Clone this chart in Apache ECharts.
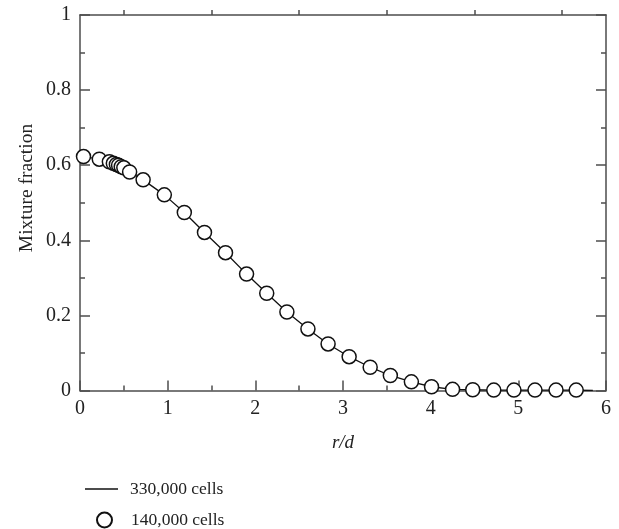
<!DOCTYPE html>
<html>
<head>
<meta charset="utf-8">
<script src="https://cdn.jsdelivr.net/npm/echarts@6/dist/echarts.min.js"></script>
<style>
  html, body { margin: 0; padding: 0; background: #fff; }
  #chart { width: 619px; height: 529px; }
</style>
</head>
<body>
<div id="chart"></div>
<script>
// 330,000 cells (line)
var lineX = [0.04, 0.22, 0.335, 0.38, 0.415, 0.44, 0.47, 0.50, 0.566, 0.72, 0.962, 1.19, 1.42, 1.66, 1.90, 2.13, 2.36, 2.60, 2.83, 3.07, 3.31, 3.54, 3.78, 4.01, 4.25, 4.48, 4.72, 4.95, 5.19, 5.43, 5.66, 5.85];
var lineY = [0.623, 0.616, 0.609, 0.605, 0.602, 0.600, 0.596, 0.593, 0.582, 0.561, 0.521, 0.474, 0.421, 0.367, 0.310, 0.259, 0.209, 0.164, 0.124, 0.090, 0.062, 0.040, 0.023, 0.010, 0.003, 0.002, 0.001, 0.001, 0.001, 0.001, 0.001, 0.0];
// 140,000 cells (circles)
var circX = [0.04, 0.22, 0.335, 0.38, 0.415, 0.44, 0.47, 0.50, 0.566, 0.72, 0.962, 1.19, 1.42, 1.66, 1.90, 2.13, 2.36, 2.60, 2.83, 3.07, 3.31, 3.54, 3.78, 4.01, 4.25, 4.48, 4.72, 4.95, 5.19, 5.43, 5.66];
var circY = [0.623, 0.616, 0.609, 0.605, 0.602, 0.600, 0.596, 0.593, 0.582, 0.561, 0.521, 0.474, 0.421, 0.367, 0.310, 0.259, 0.209, 0.164, 0.124, 0.090, 0.062, 0.040, 0.023, 0.010, 0.003, 0.002, 0.001, 0.001, 0.001, 0.001, 0.001];
var seriesNames = ['330,000 cells', '140,000 cells'];

function zip(a, b) {
  var out = [];
  for (var i = 0; i < a.length; i++) out.push([a[i], b[i]]);
  return out;
}

var font = 'Liberation Serif';
var axisColor = '#4d4d4d';

function axisBase(extra) {
  var base = {
    axisLine: { show: true, onZero: false, lineStyle: { color: axisColor, width: 1.5 } },
    axisTick: { show: true, inside: true, length: 10, lineStyle: { color: axisColor, width: 1.5 } },
    minorTick: { show: true, splitNumber: 2, length: 5, lineStyle: { color: axisColor, width: 1.5 } },
    splitLine: { show: false }
  };
  for (var k in extra) base[k] = extra[k];
  return base;
}

var chart = echarts.init(document.getElementById('chart'));
chart.setOption({
  animation: false,
  backgroundColor: '#fff',
  grid: { left: 80, right: 13, top: 15, bottom: 138.5 },
  xAxis: [
    axisBase({
      type: 'value', min: 0, max: 6, interval: 1, position: 'bottom',
      axisLabel: { margin: 8, fontFamily: font, fontSize: 20, color: '#222' },
      name: 'r/d', nameLocation: 'middle', nameGap: 43,
      nameTextStyle: { fontFamily: font, fontSize: 19, fontStyle: 'italic', color: '#222' }
    }),
    axisBase({
      type: 'value', min: 0, max: 6, interval: 1, position: 'top',
      axisLabel: { show: false },
      axisTick: { show: false }
    })
  ],
  yAxis: [
    axisBase({
      type: 'value', min: 0, max: 1, interval: 0.2, position: 'left',
      axisLabel: { margin: 9, fontFamily: font, fontSize: 20, color: '#222',
        formatter: function (v) { return +v.toFixed(1) + ''; } }
    }),
    axisBase({
      type: 'value', min: 0, max: 1, interval: 0.2, position: 'right',
      axisLabel: { show: false }
    })
  ],
  graphic: [{
    type: 'text',
    x: 27, y: 188,
    rotation: Math.PI / 2,
    style: {
      text: 'Mixture fraction',
      fontFamily: font, fontSize: 19.5, fill: '#222',
      textAlign: 'center', textVerticalAlign: 'middle'
    }
  }],
  legend: [
    {
      data: [{ name: seriesNames[0], icon: 'rect', itemStyle: { color: '#111', borderWidth: 0 } }],
      orient: 'vertical', left: 80, top: 475,
      itemWidth: 33, itemHeight: 1.5,
      textStyle: { fontFamily: font, fontSize: 17.5, color: '#222', padding: [0, 0, 0, 7] }
    },
    {
      data: [{ name: seriesNames[1], icon: 'circle' }],
      orient: 'vertical', left: 91, top: 506,
      itemWidth: 15, itemHeight: 15,
      textStyle: { fontFamily: font, fontSize: 17.5, color: '#222', padding: [0, 0, 0, 14] }
    }
  ],
  series: [
    {
      name: seriesNames[0],
      type: 'line',
      data: zip(lineX, lineY),
      symbol: 'none',
      lineStyle: { color: '#111', width: 1.3 },
      itemStyle: { color: '#111' },
      z: 2
    },
    {
      name: seriesNames[1],
      type: 'scatter',
      data: zip(circX, circY),
      symbol: 'circle',
      symbolSize: 14,
      itemStyle: { color: '#fff', borderColor: '#111', borderWidth: 1.5, opacity: 1 },
      z: 3
    }
  ]
});
</script>
</body>
</html>
